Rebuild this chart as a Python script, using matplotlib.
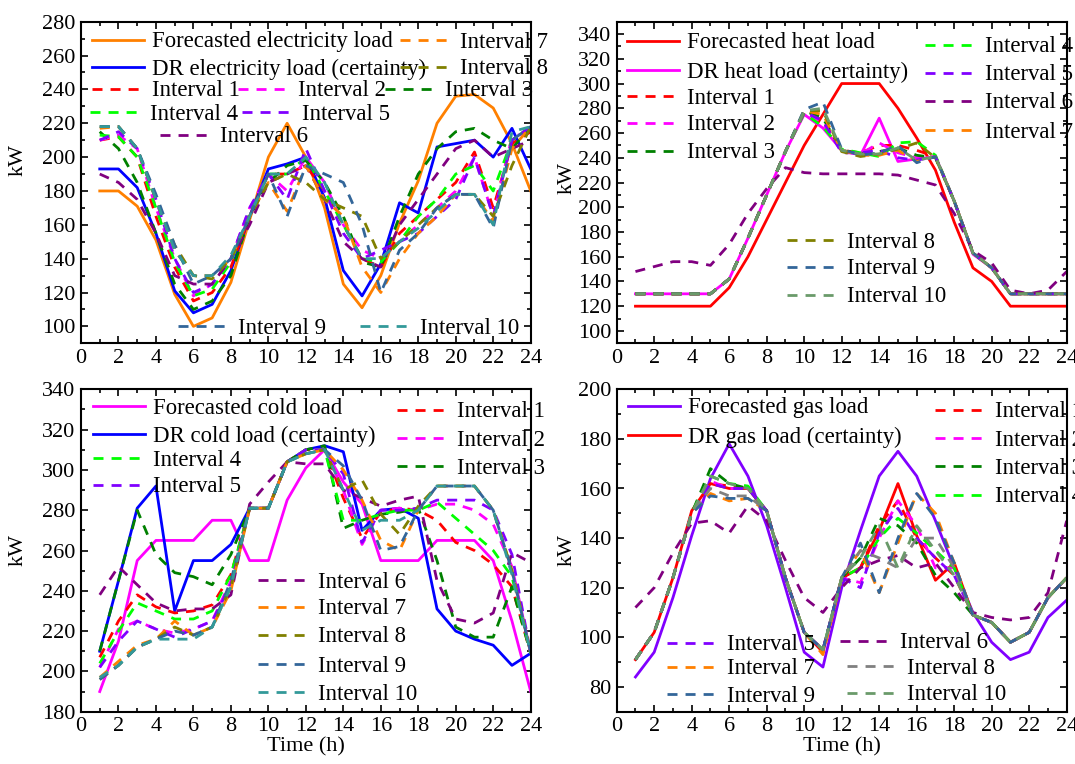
import matplotlib
matplotlib.use("Agg")
import matplotlib.pyplot as plt
from matplotlib.ticker import MultipleLocator

plt.rcParams['font.family'] = ['Liberation Serif', 'DejaVu Serif']
plt.rcParams['font.size'] = 16

hours = list(range(1, 25))
interval_names = ['Interval %d' % i for i in range(1, 11)]

# ---- electricity ----
elec_forecast = [180, 180, 171, 151, 119, 100, 105, 126, 163, 200, 220, 200,
                 170, 125, 111, 130, 161, 186, 220, 236, 237, 229, 208, 180]
elec_dr = [193, 193, 182, 155, 121, 108, 113, 133, 165, 193, 196, 200,
           176, 133, 118, 137, 173, 167, 206, 208, 210, 200, 217, 193]
elec_intervals = [
    [210, 212, 200, 165, 135, 115, 120, 135, 165, 190, 190, 195, 180, 160, 140, 135, 155, 165, 175, 185, 203, 170, 208, 215],
    [210, 213, 205, 170, 140, 118, 125, 140, 170, 190, 180, 200, 185, 160, 145, 140, 150, 160, 170, 180, 200, 165, 212, 215],
    [215, 205, 185, 155, 125, 110, 115, 130, 165, 185, 195, 198, 185, 165, 138, 135, 165, 190, 205, 215, 217, 210, 205, 218],
    [213, 212, 200, 170, 138, 118, 122, 138, 168, 190, 190, 200, 180, 160, 140, 138, 150, 165, 175, 190, 195, 180, 210, 218],
    [210, 215, 205, 175, 140, 120, 125, 140, 170, 190, 175, 205, 180, 155, 140, 145, 150, 155, 165, 175, 200, 165, 210, 218],
    [190, 185, 175, 155, 130, 125, 125, 140, 160, 185, 190, 195, 175, 150, 140, 135, 160, 175, 190, 205, 210, 200, 205, 210],
    [217, 218, 205, 175, 145, 130, 130, 140, 165, 185, 168, 195, 175, 165, 135, 120, 140, 155, 165, 178, 178, 162, 205, 218],
    [218, 218, 205, 175, 148, 130, 128, 140, 165, 185, 190, 185, 175, 170, 165, 140, 150, 160, 170, 178, 178, 165, 195, 218],
    [218, 218, 205, 178, 148, 125, 130, 140, 165, 190, 165, 195, 190, 185, 160, 120, 145, 155, 170, 178, 178, 158, 210, 218],
    [218, 218, 205, 175, 145, 130, 130, 142, 165, 190, 190, 200, 185, 160, 140, 140, 150, 158, 168, 178, 178, 160, 215, 218],
]

# ---- heat ----
heat_forecast = [120, 120, 120, 120, 120, 135, 160, 190, 220, 250, 275, 300,
                 300, 300, 280, 256, 230, 188, 151, 140, 120, 120, 120, 120]
heat_dr = [130, 130, 130, 130, 130, 142, 175, 210, 245, 275, 264, 246,
           242, 272, 237, 239, 241, 205, 162, 151, 130, 130, 130, 130]
heat_intervals = [
    [130, 130, 130, 130, 130, 142, 175, 210, 245, 277, 270, 246, 244, 250, 250, 246, 241, 205, 163, 151, 130, 130, 130, 130],
    [130, 130, 130, 130, 130, 142, 175, 210, 245, 277, 268, 245, 243, 252, 244, 240, 241, 205, 163, 151, 130, 130, 130, 130],
    [130, 130, 130, 130, 130, 142, 175, 210, 245, 278, 272, 246, 243, 245, 248, 242, 240, 205, 163, 151, 130, 130, 130, 130],
    [130, 130, 130, 130, 130, 142, 175, 210, 245, 276, 265, 247, 244, 241, 252, 253, 242, 205, 163, 151, 130, 130, 130, 130],
    [130, 130, 130, 130, 130, 142, 175, 210, 245, 277, 270, 244, 244, 246, 240, 238, 241, 205, 163, 151, 130, 130, 130, 130],
    [148, 152, 156, 156, 153, 170, 195, 215, 232, 228, 227, 227, 227, 227, 226, 222, 218, 195, 165, 155, 133, 130, 133, 148],
    [130, 130, 130, 130, 130, 142, 175, 210, 245, 278, 275, 246, 242, 242, 246, 237, 241, 205, 163, 151, 130, 130, 130, 130],
    [130, 130, 130, 130, 130, 142, 175, 210, 245, 278, 278, 245, 241, 243, 247, 252, 240, 205, 163, 151, 130, 130, 130, 130],
    [130, 130, 130, 130, 130, 142, 175, 210, 245, 279, 285, 247, 242, 244, 250, 236, 241, 205, 163, 151, 130, 130, 130, 130],
    [130, 130, 130, 130, 130, 142, 175, 210, 245, 278, 280, 246, 243, 243, 248, 238, 241, 205, 163, 151, 130, 130, 130, 130],
]

# ---- cold ----
cold_forecast = [190, 215, 255, 265, 265, 265, 275, 275, 255, 255, 285, 301,
                 310, 294, 283, 255, 255, 255, 265, 265, 265, 255, 225, 190]
cold_dr = [210, 245, 281, 292, 230, 255, 255, 263, 281, 281, 304, 310,
           312, 309, 270, 280, 281, 276, 231, 220, 216, 213, 203, 209]
cold_intervals = [
    [207, 225, 238, 232, 229, 230, 233, 248, 281, 281, 304, 310, 310, 286, 266, 279, 281, 280, 275, 264, 260, 253, 242, 209],
    [202, 221, 225, 221, 219, 221, 225, 245, 281, 281, 304, 310, 310, 290, 263, 280, 281, 280, 283, 283, 280, 273, 252, 209],
    [210, 245, 280, 258, 249, 247, 243, 258, 281, 281, 304, 310, 312, 271, 275, 278, 279, 281, 255, 222, 217, 217, 242, 209],
    [204, 220, 234, 230, 226, 226, 230, 248, 281, 281, 304, 310, 310, 275, 275, 278, 280, 280, 284, 276, 268, 260, 247, 209],
    [202, 215, 225, 221, 217, 221, 225, 243, 281, 281, 304, 310, 310, 298, 264, 280, 280, 281, 285, 285, 285, 280, 258, 209],
    [238, 252, 243, 234, 230, 231, 231, 238, 283, 294, 304, 303, 303, 290, 286, 282, 285, 287, 245, 226, 224, 229, 259, 254],
    [197, 205, 213, 216, 225, 218, 222, 240, 281, 281, 304, 308, 310, 300, 285, 265, 260, 280, 292, 292, 292, 280, 250, 209],
    [196, 203, 212, 216, 222, 218, 222, 242, 281, 281, 304, 308, 310, 290, 295, 278, 268, 282, 292, 292, 292, 280, 250, 209],
    [196, 203, 212, 216, 220, 218, 222, 245, 281, 281, 304, 308, 310, 302, 285, 260, 262, 280, 292, 292, 292, 280, 250, 209],
    [197, 203, 212, 216, 216, 216, 222, 242, 281, 281, 304, 308, 310, 290, 270, 275, 275, 280, 292, 292, 292, 280, 248, 209],
]

# ---- gas ----
gas_forecast = [84, 94, 116, 141, 164, 178, 165, 145, 120, 94, 88, 120,
                143, 165, 175, 165, 147, 128, 110, 98, 91, 94, 108, 115]
gas_dr = [91, 102, 124, 151, 162, 160, 160, 151, 124, 102, 94, 124,
          128, 143, 162, 141, 123, 130, 109, 106, 98, 102, 116, 124]
gas_intervals = [
    [91, 102, 124, 150, 162, 161, 160, 151, 124, 102, 95, 124, 128, 145, 155, 140, 132, 125, 109, 106, 98, 102, 116, 124],
    [91, 102, 124, 150, 163, 160, 160, 151, 124, 102, 95, 124, 122, 140, 155, 145, 128, 128, 109, 106, 98, 102, 116, 124],
    [91, 102, 124, 150, 168, 162, 160, 151, 124, 102, 95, 124, 132, 148, 145, 138, 125, 118, 109, 106, 98, 102, 116, 124],
    [91, 102, 124, 150, 165, 162, 161, 151, 124, 102, 95, 124, 128, 140, 148, 142, 135, 128, 109, 106, 98, 102, 116, 124],
    [91, 102, 124, 150, 162, 160, 160, 151, 124, 102, 95, 124, 120, 142, 152, 140, 132, 125, 109, 106, 98, 102, 116, 124],
    [112, 120, 134, 146, 147, 142, 153, 147, 131, 116, 110, 120, 128, 131, 133, 128, 130, 120, 110, 108, 107, 108, 118, 147],
    [91, 102, 124, 150, 158, 155, 156, 151, 124, 102, 93, 124, 135, 118, 138, 158, 150, 130, 109, 106, 98, 102, 116, 124],
    [91, 102, 124, 150, 160, 157, 157, 151, 124, 102, 95, 124, 135, 132, 128, 140, 140, 128, 109, 106, 98, 102, 116, 124],
    [91, 102, 124, 150, 157, 156, 156, 151, 124, 102, 95, 124, 138, 118, 140, 158, 148, 130, 109, 106, 98, 102, 116, 124],
    [91, 102, 124, 150, 165, 162, 160, 151, 124, 102, 95, 124, 132, 145, 128, 145, 135, 125, 109, 106, 98, 102, 116, 124],
]

base_colors = ['#FF0000', '#FF00FF', '#008000', '#00FF00', '#8000FF',
               '#800080', '#FF8000', '#808000', '#336699', '#339999']
W, H = 1075, 764
dash = (0, (3.6, 2.9))

fig = plt.figure(figsize=(W / 100, H / 100), dpi=100)


def make_axes(left, top, right, bottom):
    return fig.add_axes([left / W, 1 - bottom / H, (right - left) / W, (bottom - top) / H])


def put_legend(handle, label, x, y, hl=2.3):
    fig.legend([handle], [label], loc='center left', bbox_to_anchor=(x / W, 1 - y / H),
               frameon=False, borderpad=0, borderaxespad=0, handlelength=hl,
               handletextpad=0.35, fontsize=16.4)


def draw_panel(ax, forecast, dr, intervals, c_fore, c_dr, colors, ylim, ymajor, ylab_pos, xlabel):
    lf, = ax.plot(hours, forecast, color=c_fore, lw=2.0)
    ld, = ax.plot(hours, dr, color=c_dr, lw=2.0)
    lines = []
    for vals, col in zip(intervals, colors):
        l, = ax.plot(hours, vals, color=col, lw=2.0, linestyle=dash)
        lines.append(l)
    ax.set_xlim(0, 24)
    ax.set_ylim(*ylim)
    ax.xaxis.set_major_locator(MultipleLocator(2))
    ax.xaxis.set_minor_locator(MultipleLocator(1))
    ax.yaxis.set_major_locator(MultipleLocator(ymajor))
    ax.yaxis.set_minor_locator(MultipleLocator(ymajor / 2))
    ax.tick_params(which='both', direction='in', top=True, right=True, width=1.2, labelsize=16, pad=4)
    ax.tick_params(which='major', length=5)
    ax.tick_params(which='minor', length=3)
    for s in ax.spines.values():
        s.set_linewidth(1.5)
    ax.set_ylabel('kW', fontsize=16)
    ax.yaxis.set_label_coords(*ylab_pos)
    if xlabel:
        ax.set_xlabel('Time (h)', fontsize=16, labelpad=1)
    return lf, ld, lines


# top-left: electricity
ax1 = make_axes(81, 21.7, 530.7, 343.3)
lf, ld, li = draw_panel(ax1, elec_forecast, elec_dr, elec_intervals, '#FF8000', '#0000FF',
                        base_colors, (90, 280), 20, (-0.118, 0.57), False)
put_legend(lf, 'Forecasted electricity load', 92, 42)
put_legend(ld, 'DR electricity load (certainty)', 92, 69)
for k, x, y in [(0, 92, 91), (1, 238, 91), (2, 385, 91), (3, 90, 114), (4, 242, 114),
                (5, 160, 137), (6, 400, 42), (7, 400, 69), (8, 178, 328), (9, 360, 328)]:
    put_legend(li[k], interval_names[k], x, y)

# top-right: heat
heat_colors = base_colors[:9] + ['#6A9A6A']
ax2 = make_axes(616.7, 21.7, 1066.7, 343.3)
lf, ld, li = draw_panel(ax2, heat_forecast, heat_dr, heat_intervals, '#FF0000', '#FF00FF',
                        heat_colors, (90, 350), 20, (-0.09, 0.515), False)
put_legend(lf, 'Forecasted heat load', 627, 43)
put_legend(ld, 'DR heat load (certainty)', 627, 72)
for k, x, y in [(0, 627, 98), (1, 627, 125), (2, 627, 153), (3, 925, 47), (4, 925, 75),
                (5, 925, 103), (6, 925, 132), (7, 787, 242), (8, 787, 269), (9, 787, 297)]:
    put_legend(li[k], interval_names[k], x, y)

# bottom-left: cold
ax3 = make_axes(81, 389.3, 530.7, 711.7)
lf, ld, li = draw_panel(ax3, cold_forecast, cold_dr, cold_intervals, '#FF00FF', '#0000FF',
                        base_colors, (180, 340), 20, (-0.118, 0.5), True)
put_legend(lf, 'Forecasted cold load', 93, 408)
put_legend(ld, 'DR cold load (certainty)', 93, 436)
for k, x, y in [(3, 93, 460), (4, 93, 487), (0, 397, 412), (1, 397, 440), (2, 397, 468),
                (5, 258, 582), (6, 258, 609), (7, 258, 637), (8, 258, 666), (9, 258, 694)]:
    put_legend(li[k], interval_names[k], x, y)

# bottom-right: gas
gas_colors = base_colors[:7] + ['#808080', '#336699', '#6A9A6A']
ax4 = make_axes(616.7, 389.3, 1066.7, 711.7)
lf, ld, li = draw_panel(ax4, gas_forecast, gas_dr, gas_intervals, '#8000FF', '#FF0000',
                        gas_colors, (70, 200), 20, (-0.09, 0.5), True)
put_legend(lf, 'Forecasted gas load', 628, 408)
put_legend(ld, 'DR gas load (certainty)', 628, 437)
for k, x, y in [(0, 935, 412), (1, 935, 440), (2, 935, 468), (3, 935, 497), (4, 667, 645),
                (6, 667, 669), (8, 667, 696), (5, 840, 643), (7, 847, 668), (9, 847, 695)]:
    put_legend(li[k], interval_names[k], x, y)

fig.savefig('out.png', dpi=100)
